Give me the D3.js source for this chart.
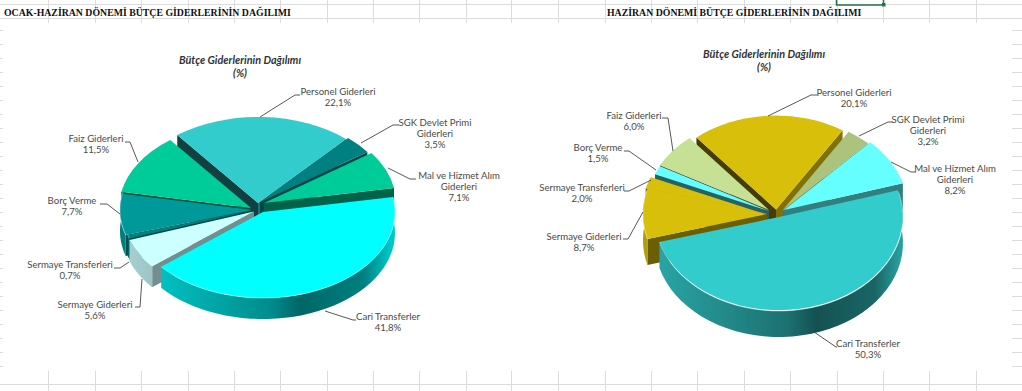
<!DOCTYPE html>
<html>
<head>
<meta charset="utf-8">
<script src="https://cdnjs.cloudflare.com/ajax/libs/d3/7.8.5/d3.min.js"></script>
<style>
html, body { margin: 0; padding: 0; background: #fff; }
svg { display: block; }
.label { font-family: Lato, "Open Sans", sans-serif; font-size: 9.6px; fill: #4a4a4a; text-anchor: middle; }
.head { font-family: "Liberation Serif", serif; font-size: 9.8px; font-weight: bold; fill: #111; }
.ctitle { font-family: Lato, sans-serif; font-size: 10.8px; font-weight: bold; font-style: italic; fill: #333; text-anchor: middle; }
</style>
</head>
<body>
<div id="chart"></div>
<script>
var width = 1022;
var height = 391;

// clockwise from the Mal/Cari boundary
var categories = [
  ["Cari Transferler"],
  ["Sermaye Giderleri"],
  ["Sermaye Transferleri"],
  ["Borç Verme"],
  ["Faiz Giderleri"],
  ["Personel Giderleri"],
  ["SGK Devlet Primi", "Giderleri"],
  ["Mal ve Hizmet Alım", "Giderleri"]
];
var valuesLeft = [41.8, 5.6, 0.7, 7.7, 11.5, 22.1, 3.5, 7.1];
var valuesRight = [50.3, 8.7, 2.0, 1.5, 6.0, 20.1, 3.2, 8.2];
var colorsLeft = ["#00ffff", "#ccffff", "#008080", "#009999", "#00cc99", "#33cccc", "#008080", "#00cc99"];
var colorsRight = ["#33cccc", "#d8bf0a", "#d8bf0a", "#66ffff", "#c6e094", "#d8bf0a", "#abc37c", "#66ffff"];

var leftPie = {
  cx: 258, cy: 206, rx: 132, ry: 86, depth: 21, start: 80,
  // how far each slice is pulled out of the pie, x and y
  explode: [[5, 6], [-4, 5.5], [-4, 4], [-6, 4], [-7, 2], [0, -3], [2, -4], [6, -3]],
  title: [240, 57], head: [4, "OCAK-HAZİRAN DÖNEMİ BÜTÇE GİDERLERİNİN DAĞILIMI"],
  labels: [[388, 317], [95, 305], [70, 265], [72, 201], [96, 139], [338, 92], [435, 123], [459, 176]],
  leaders: [
    [[325, 311], [353, 320], [356, 320]],
    [[142, 279], [140, 307], [135, 307]],
    [[129, 262], [120, 268], [114, 268]],
    [[120, 214], [107, 204], [100, 204]],
    [[138, 162], [130, 142], [125, 142]],
    [[260, 117], [295, 95], [300, 95]],
    [[361, 143], [393, 125], [399, 125]],
    [[388, 168], [410, 179], [416, 179]]
  ]
};
var rightPie = {
  cx: 776, cy: 212, rx: 124, ry: 94, depth: 26, start: 73.5,
  explode: [[3, 5], [-9, 2], [-11, 2], [-7, -1], [-7, -2], [0, -2.5], [6, -1], [8, -2]],
  title: [764, 51], head: [607, "HAZİRAN DÖNEMİ BÜTÇE GİDERLERİNİN DAĞILIMI"],
  labels: [[868, 344], [584, 237], [582, 188], [598, 148], [634, 116], [854, 93], [928, 120], [955, 169]],
  leaders: [
    [[814, 332], [836, 347], [837, 347]],
    [[643, 212], [628, 239], [623, 239]],
    [[651, 180], [629, 191], [624, 191]],
    [[656, 170], [629, 151], [624, 151]],
    [[673, 151], [668, 118], [662, 118]],
    [[768, 116], [811, 95], [817, 95]],
    [[859, 136], [888, 122], [893, 122]],
    [[891, 162], [911, 172], [916, 172]]
  ]
};

var svg = d3.select("#chart").append("svg")
  .attr("width", width)
  .attr("height", height);
var defs = svg.append("defs");

// spreadsheet grid behind the charts
var gridX = [48, 95, 141, 188, 234, 280, 327, 373, 419, 466, 511, 558, 605, 651, 697, 744, 790, 837, 883, 929, 976];
var gridY = [4, 18, 384];
var grid = svg.append("g").attr("stroke", "#dcdcdc").attr("stroke-width", 1);
gridX.forEach(function(x) {
  grid.append("line").attr("x1", x + 0.5).attr("x2", x + 0.5).attr("y1", 0).attr("y2", 23);
  grid.append("line").attr("x1", x + 0.5).attr("x2", x + 0.5).attr("y1", 371).attr("y2", height);
});
gridY.forEach(function(y) {
  grid.append("line").attr("x1", 0).attr("x2", width).attr("y1", y + 0.5).attr("y2", y + 0.5);
});
d3.range(30, 371, 14).forEach(function(y) {
  grid.append("line").attr("x1", 0).attr("x2", 3).attr("y1", y + 0.5).attr("y2", y + 0.5);
  grid.append("line").attr("x1", 1012).attr("x2", width).attr("y1", y + 0.5).attr("y2", y + 0.5);
});
svg.append("rect").attr("x", 836.5).attr("y", -3).attr("width", 47).attr("height", 8)
  .attr("fill", "none").attr("stroke", "#217346").attr("stroke-width", 1.5);
svg.append("rect").attr("x", 882).attr("y", 3).attr("width", 3.5).attr("height", 3.5).attr("fill", "#217346");

function shade(c, k) {
  var r = d3.rgb(c);
  return d3.rgb(r.r * k, r.g * k, r.b * k).formatHex();
}

function drawPie(p, values, colors, id) {
  var pie = d3.pie().sort(null)
    .startAngle(p.start * Math.PI / 180)
    .endAngle(p.start * Math.PI / 180 + 2 * Math.PI);
  var arcs = pie(values);
  var arc = d3.arc().innerRadius(0).outerRadius(1);
  var line = d3.line();
  var g = svg.append("g");

  function edge(a, o, dz) {
    return [o[0] + p.rx * Math.sin(a), o[1] - p.ry * Math.cos(a) + dz];
  }

  arcs.forEach(function(d, i) {
    d.index = i;
    d.mid = (d.startAngle + d.endAngle) / 2;
    d.o = [p.cx + p.explode[i][0], p.cy + p.explode[i][1]];
  });

  // back slices first so the front ones cover them
  arcs.slice().sort(function(a, b) { return Math.cos(b.mid) - Math.cos(a.mid); }).forEach(function(d) {
    var i = d.index;
    var base = colors[i];
    var gid = "wall-" + id + "-" + i;
    var gr = defs.append("linearGradient").attr("id", gid)
      .attr("gradientUnits", "userSpaceOnUse")
      .attr("x1", p.cx - p.rx).attr("x2", p.cx + p.rx).attr("y1", 0).attr("y2", 0);
    gr.append("stop").attr("offset", 0).attr("stop-color", shade(base, 0.82));
    gr.append("stop").attr("offset", 0.55).attr("stop-color", shade(base, 0.55));
    gr.append("stop").attr("offset", 0.66).attr("stop-color", shade(base, 0.4));
    gr.append("stop").attr("offset", 0.9).attr("stop-color", shade(base, 0.5));
    gr.append("stop").attr("offset", 1).attr("stop-color", shade(base, 0.78));

    // cut faces, only the ones turned toward the viewer
    var faces = [
      [d.startAngle, 0.45 - 0.17 * Math.cos(d.startAngle), Math.sin(d.startAngle) < 0],
      [d.endAngle, 0.45 + 0.17 * Math.cos(d.endAngle), Math.sin(d.endAngle) > 0]
    ];
    faces.forEach(function(f) {
      if (!f[2]) return;
      var e = edge(f[0], d.o, 0), e2 = edge(f[0], d.o, p.depth);
      g.append("path")
        .attr("d", line([d.o, e, e2, [d.o[0], d.o[1] + p.depth]]) + "Z")
        .attr("fill", shade(base, f[1]));
    });

    // outer wall, the part that faces the viewer
    var from = Math.PI * 75 / 180, to = Math.PI * 285 / 180;
    var a0 = Math.max(d.startAngle, from), a1 = Math.min(d.endAngle, to);
    var top = [];
    if (a1 > a0) {
      top = d3.range(0, 41).map(function(k) { return edge(a0 + (a1 - a0) * k / 40, d.o, 0); });
      var bot = d3.range(40, -1, -1).map(function(k) { return edge(a0 + (a1 - a0) * k / 40, d.o, p.depth); });
      g.append("path").attr("d", line(top.concat(bot)) + "Z").attr("fill", "url(#" + gid + ")");
    }

    // top face
    g.append("path")
      .attr("d", arc(d))
      .attr("transform", "translate(" + d.o[0] + "," + d.o[1] + ") scale(" + p.rx + "," + p.ry + ")")
      .attr("fill", base);

    // light rim where the top meets the wall
    if (top.length) {
      g.append("path").attr("d", line(top)).attr("fill", "none")
        .attr("stroke", "#fff").attr("stroke-opacity", 0.4).attr("stroke-width", 1);
    }
  });

  // leaders and labels
  p.leaders.forEach(function(pts) {
    svg.append("path").attr("d", line(pts)).attr("fill", "none")
      .attr("stroke", "#444").attr("stroke-width", 0.9);
  });
  categories.forEach(function(lines, i) {
    var t = svg.append("text").attr("class", "label");
    lines.concat([d3.format(".1f")(values[i]).replace(".", ",") + "%"]).forEach(function(s, j) {
      t.append("tspan").attr("x", p.labels[i][0]).attr("y", p.labels[i][1] + 3 + j * 11).text(s);
    });
  });

  var ct = svg.append("text").attr("class", "ctitle");
  ct.append("tspan").attr("x", p.title[0]).attr("y", p.title[1] + 7).text("Bütçe Giderlerinin Dağılımı");
  ct.append("tspan").attr("x", p.title[0]).attr("y", p.title[1] + 20).text("(%)");

  svg.append("text").attr("class", "head").attr("x", p.head[0]).attr("y", 15.5).text(p.head[1]);
}

drawPie(leftPie, valuesLeft, colorsLeft, "l");
drawPie(rightPie, valuesRight, colorsRight, "r");
</script>
</body>
</html>
